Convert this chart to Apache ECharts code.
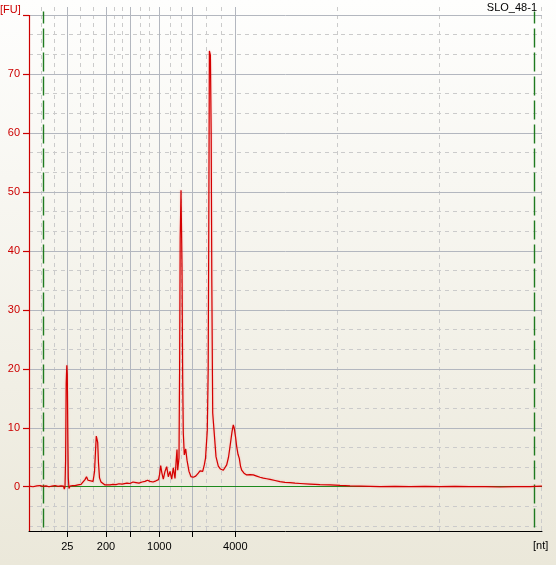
<!DOCTYPE html>
<html>
<head>
<meta charset="utf-8">
<script src="https://cdn.jsdelivr.net/npm/echarts@6/dist/echarts.min.js"></script>
<style>
html,body{margin:0;padding:0;}
#chart{width:556px;height:565px;}
</style>
</head>
<body>
<div id="chart"></div>
<script>
// ---- data (migration time in seconds vs. fluorescence units) ----
const sampleName = 'SLO_48-1';
const ladderSizes  = [25, 200, 500, 1000, 2000, 4000];
const ladderTimes  = [20.83, 24.70, 27.10, 30.03, 33.33, 37.63];
const ladderLabels = ['25', '200', '', '1000', '', '4000'];
const outerGridTimes = [18.25, 19.54, 47.83, 58.03, 68.23];
const lowerMarkerTime = 18.43;
const upperMarkerTime = 67.53;
const yTickValues  = [0, 10, 20, 30, 40, 50, 60, 70, 80];
const yLabelValues = [0, 10, 20, 30, 40, 50, 60, 70];

const timeSec = [
 17.00,17.40,17.80,18.10,18.40,18.70,19.00,19.30,19.60,19.90,20.20,20.45,20.53,20.60,20.66,20.72,20.78,20.83,20.88,20.93,
 21.00,21.10,21.25,21.35,21.60,21.90,22.20,22.40,22.60,22.75,22.90,23.10,23.40,23.55,23.65,23.73,23.80,23.87,23.95,24.05,
 24.20,24.40,24.60,24.80,25.10,25.40,25.70,26.00,26.30,26.50,26.80,27.10,27.40,27.55,27.70,28.00,28.30,28.60,28.85,29.10,
 29.40,29.70,29.95,30.05,30.17,30.28,30.43,30.60,30.77,30.93,31.10,31.27,31.43,31.60,31.72,31.80,31.87,32.00,32.06,32.12,
 32.20,32.30,32.37,32.43,32.53,32.67,32.80,33.00,33.20,33.43,33.67,33.93,34.10,34.37,34.53,34.65,34.83,34.92,34.98,35.04,
 35.14,35.22,35.28,35.37,35.50,35.70,35.93,36.15,36.43,36.60,36.77,36.95,37.10,37.30,37.43,37.53,37.65,37.77,37.90,38.03,
 38.15,38.27,38.50,38.77,39.10,39.43,39.77,40.10,40.43,40.77,41.10,41.60,42.10,42.60,43.10,43.60,44.10,45.10,46.10,47.10,
 48.10,49.10,50.10,51.10,52.10,53.60,55.10,56.60,58.10,59.60,61.10,62.60,64.10,65.60,67.10,68.30
];
const fluorescence = [
 0.10,0.00,0.15,0.20,0.05,0.15,0.00,0.10,0.20,0.05,0.15,0.10,-0.40,0.00,4.5,17.5,20.6,19.0,9.0,1.5,
 -0.30,0.10,-0.20,0.20,0.20,0.30,0.40,0.60,1.20,1.70,1.10,0.80,0.90,2.5,6.0,8.6,8.3,7.5,4.0,1.5,
 0.80,0.50,0.30,0.45,0.30,0.40,0.35,0.50,0.45,0.70,0.60,0.55,0.80,1.10,0.70,0.60,0.80,0.90,1.10,0.90,
 0.80,1.00,1.20,2.0,3.6,2.4,1.3,2.6,3.4,1.7,2.6,1.3,3.2,1.4,4.5,6.3,2.8,4.9,20.0,42.0,
 50.3,37.5,18.0,9.1,5.4,6.4,4.5,2.6,1.7,1.6,1.8,2.3,2.7,2.6,3.7,4.8,9.6,20.0,45.0,73.9,
 73.2,59.6,35.0,12.5,9.6,5.1,3.5,3.0,2.8,3.1,3.7,5.0,6.8,9.3,10.5,9.9,8.5,6.8,5.5,4.8,
 3.5,2.8,2.3,2.0,2.05,2.0,1.8,1.6,1.45,1.35,1.25,1.05,0.85,0.75,0.70,0.60,0.55,0.45,0.35,0.30,
 0.22,0.15,0.10,0.05,0.00,0.05,0.00,0.05,0.00,0.05,0.00,0.00,-0.05,0.00,0.00,0.10
];

// ---- layout ----
const X_MIN = 17.0, X_MAX = 68.3;
const Y_MIN = -7.51, Y_MAX = 81.36;
const RED = '#cc0000';
const FONT = 'Liberation Sans, Arial, sans-serif';
const SOLID_GRID = {color: '#b3b7bf', width: 1, type: 'solid'};
const DASH_GRID  = {color: '#cbcbcb', width: 1, type: [4, 4]};

const signal = timeSec.map((t, i) => [t, fluorescence[i]]);

// minor (dashed) vertical grid: thirds between ladder positions + outer ones
const minorV = outerGridTimes.slice();
for (let i = 0; i < ladderTimes.length - 1; i++) {
  const a = ladderTimes[i], b = ladderTimes[i + 1];
  minorV.push(a + (b - a) / 3, a + 2 * (b - a) / 3);
}
const gridLines = [];
minorV.forEach(t => gridLines.push([{coord: [t, Y_MIN], lineStyle: DASH_GRID}, {coord: [t, Y_MAX]}]));
for (let v = -20/3; v < 80; v += 10/3) {
  const r = Math.round(v * 3) / 3;
  if (Math.abs(r - Math.round(r / 10) * 10) < 0.01) continue;
  gridLines.push([{coord: [X_MIN, r], lineStyle: DASH_GRID}, {coord: [X_MAX, r]}]);
}
ladderTimes.forEach(t => gridLines.push([{coord: [t, Y_MIN], lineStyle: SOLID_GRID}, {coord: [t, Y_MAX]}]));
yTickValues.filter(v => v > 0).forEach(v => gridLines.push([{coord: [X_MIN, v], lineStyle: SOLID_GRID}, {coord: [X_MAX, v]}]));

const markerLines = [
  [{coord: [lowerMarkerTime, Y_MIN + 0.6], lineStyle: {color: '#1f7a1f', width: 1.4, type: [19, 5]}}, {coord: [lowerMarkerTime, 80.6]}],
  [{coord: [upperMarkerTime, Y_MIN + 0.6], lineStyle: {color: '#1f7a1f', width: 1.4, type: [19, 5]}}, {coord: [upperMarkerTime, 80.6]}],
  [{coord: [lowerMarkerTime - 0.3, 0], lineStyle: {color: '#1d8a1d', width: 1.2, type: 'solid'}}, {coord: [X_MAX, 0]}],
  [{coord: [X_MIN, Y_MIN], lineStyle: {color: RED, width: 1.2, type: 'solid'}}, {coord: [X_MIN, 80]}]
];

const chart = echarts.init(document.getElementById('chart'), null, {renderer: 'canvas'});
chart.setOption({
  animation: false,
  backgroundColor: new echarts.graphic.LinearGradient(0, 0, 0, 1, [
    {offset: 0, color: '#fefefd'},
    {offset: 1, color: '#ebe8da'}
  ]),
  grid: {left: 29, right: 14, top: 7, bottom: 34},
  xAxis: {
    type: 'value', min: X_MIN, max: X_MAX,
    splitLine: {show: false},
    axisLine: {show: true, onZero: false, lineStyle: {color: '#000', width: 1}},
    axisTick: {show: true, length: 6, customValues: ladderTimes, lineStyle: {color: '#000'}},
    axisLabel: {
      customValues: ladderTimes, margin: 10, color: '#000', fontSize: 11, fontFamily: FONT,
      formatter: v => {
        const i = ladderTimes.findIndex(t => Math.abs(t - v) < 1e-6);
        return i >= 0 ? ladderLabels[i] : '';
      }
    }
  },
  yAxis: {
    type: 'value', min: Y_MIN, max: Y_MAX,
    splitLine: {show: false},
    axisLine: {show: false},
    axisTick: {show: true, length: 6, customValues: yTickValues, lineStyle: {color: RED, width: 1.2}},
    axisLabel: {customValues: yLabelValues, margin: 9, color: RED, fontSize: 11, fontFamily: FONT}
  },
  graphic: [
    {type: 'text', left: 0, top: 4, style: {text: '[FU]', fill: RED, font: '11px ' + FONT}},
    {type: 'text', right: 19, top: 2, style: {text: sampleName, fill: '#000', font: '11px ' + FONT}},
    {type: 'text', left: 533, top: 540, style: {text: '[nt]', fill: '#000', font: '11px ' + FONT}}
  ],
  series: [
    {type: 'line', data: [], silent: true, z: 1,
     markLine: {silent: true, symbol: ['none', 'none'], label: {show: false}, animation: false, data: gridLines}},
    {type: 'line', data: [], silent: true, z: 3,
     markLine: {silent: true, symbol: ['none', 'none'], label: {show: false}, animation: false, data: markerLines}},
    {type: 'line', name: sampleName, data: signal, z: 5, showSymbol: false, smooth: false,
     lineStyle: {color: '#d40000', width: 1.2, shadowColor: 'rgba(255,60,60,0.35)', shadowBlur: 2}}
  ]
});
</script>
</body>
</html>
